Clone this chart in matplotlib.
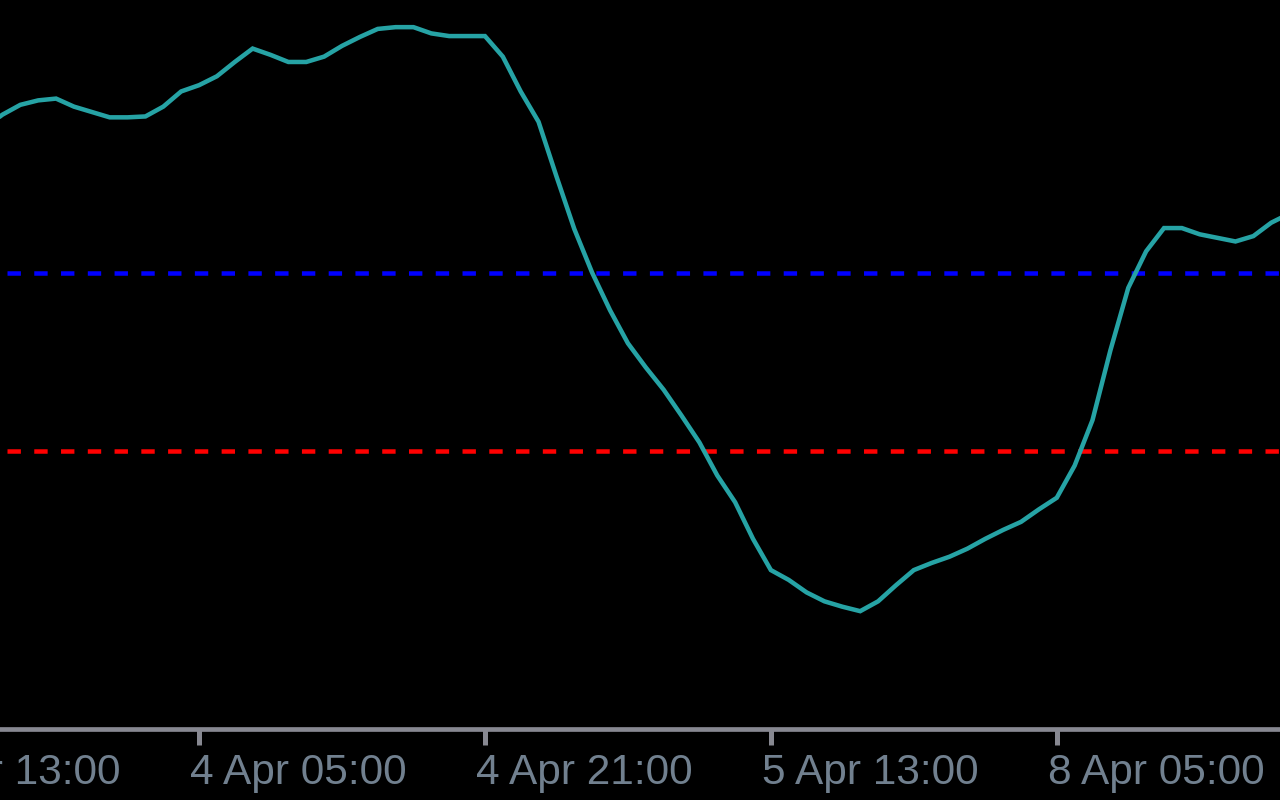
import numpy as np
import matplotlib
matplotlib.use("Agg")
import matplotlib.pyplot as plt
import matplotlib.transforms as mtransforms

# ---- data ----
first_bar = 4
indicator_values = [
    262, 277, 288, 293, 295, 286, 280, 274, 274, 275,
    286, 303, 310, 320, 336, 351, 344, 336, 336, 342,
    354, 364, 373, 375, 375, 368, 365, 365, 365, 342,
    303, 269, 208, 149, 100, 58, 21, -6, -31, -60,
    -90, -127, -157, -198, -233, -244, -258, -268, -274, -279,
    -268, -250, -233, -225, -218, -209, -198, -188, -179, -165,
    -152, -116, -65, 13, 83, 124, 150, 150, 143, 139,
    135, 141, 156, 166,
]
upper_level = 100
lower_level = -100
tick_bars = [0, 16, 32, 48, 64]
tick_labels = ["3 Apr 13:00", "4 Apr 05:00", "4 Apr 21:00", "5 Apr 13:00", "8 Apr 05:00"]

bars = np.arange(first_bar, first_bar + len(indicator_values))

# ---- layout ----
W, H, DPI = 1280, 800, 100
px_per_bar = 17.87
px_bar0 = -86.9
xlim = (-2, 80)
left_px = px_bar0 + px_per_bar * xlim[0]
right_px = px_bar0 + px_per_bar * xlim[1]
bottom_px = 728.5  # from top

fig = plt.figure(figsize=(W / DPI, H / DPI), dpi=DPI, facecolor="#000000")
ax = fig.add_axes([left_px / W, (H - bottom_px) / H, (right_px - left_px) / W, bottom_px / H])
ax.set_facecolor("#000000")

ax.set_xlim(*xlim)
ax.set_ylim(-410.4, 405.4)

lw = 4.5 * 72 / DPI
dash = 2.974
offset = 4.17
ax.axhline(upper_level, color="#0000ff", lw=lw, linestyle=(offset, (dash, dash)))
ax.axhline(lower_level, color="#ff0000", lw=lw, linestyle=(offset, (dash, dash)))
ax.plot(bars, indicator_values, color="#26a3a5", lw=lw, solid_joinstyle="miter", solid_capstyle="butt")

for s in ["top", "left", "right"]:
    ax.spines[s].set_visible(False)
axis_gray = "#878891"
ax.spines["bottom"].set_color(axis_gray)
ax.spines["bottom"].set_linewidth(4.7 * 72 / DPI)

ax.set_yticks([])
ax.set_xticks(tick_bars)
ax.set_xticklabels(tick_labels, fontfamily="Liberation Sans", fontsize=30.5, color="#71808f", ha="left")
ax.tick_params(axis="x", direction="out", length=15.5 * 72 / DPI, width=5 * 72 / DPI,
               color=axis_gray, pad=8.7 * 72 / DPI)
shift = mtransforms.ScaledTranslation(-9 / DPI, 0, fig.dpi_scale_trans)
for lab in ax.get_xticklabels():
    lab.set_transform(lab.get_transform() + shift)

fig.savefig("out.png", dpi=DPI, facecolor="#000000")
